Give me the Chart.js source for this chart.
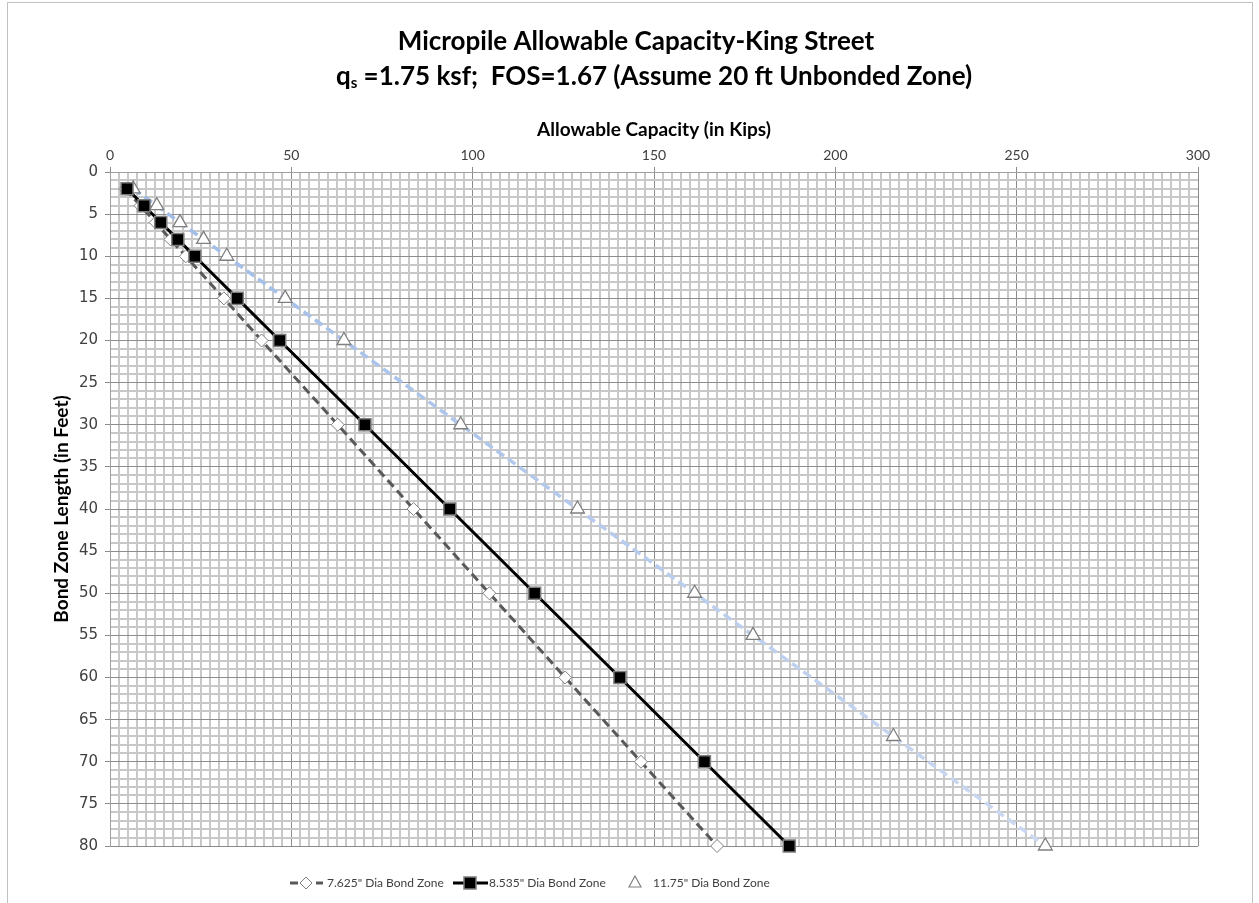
<!DOCTYPE html>
<html>
<head>
<meta charset="utf-8">
<script src="https://cdn.jsdelivr.net/npm/chart.js@4.4.0/dist/chart.umd.min.js"></script>
<style>
    html, body { margin: 0; padding: 0; background: #fff; }
    #wrap { position: relative; width: 1259px; height: 903px; }
</style>
</head>
<body>
<div id="wrap"><canvas id="grafico"></canvas></div>
<script>
// Textos do grafico
var titulo1 = 'Micropile Allowable Capacity-King Street';
var titulo2 = '=1.75 ksf;  FOS=1.67 (Assume 20 ft Unbonded Zone)';
var tituloX = 'Allowable Capacity (in Kips)';
var tituloY = 'Bond Zone Length (in Feet)';
var nomesSeries = ['7.625" Dia Bond Zone', '8.535" Dia Bond Zone', '11.75" Dia Bond Zone'];

// Comprimento do bulbo (ft) e capacidade admissivel (kips)
var comprimento = [2, 4, 6, 8, 10, 15, 20, 30, 40, 50, 60, 70, 80];
var cap7625 = [4.2, 8.4, 12.6, 16.7, 20.9, 31.4, 41.8, 62.8, 83.7, 104.6, 125.5, 146.4, 167.4];
var cap8535 = [4.7, 9.4, 14.0, 18.7, 23.4, 35.1, 46.8, 70.3, 93.7, 117.1, 140.6, 163.9, 187.3];
var comprimento1175 = [2, 4, 6, 8, 10, 15, 20, 30, 40, 50, 55, 67, 80];
var cap1175 = [6.4, 12.9, 19.3, 25.8, 32.2, 48.3, 64.5, 96.7, 128.9, 161.2, 177.3, 216.0, 257.9];

// Eixos
var xMin = 0, xMax = 300, xPassoMaior = 50, xPassoMenor = 2.5;
var yMin = 0, yMax = 80, yPassoMaior = 5, yPassoMenor = 1;

function montaPontos(xs, ys) {
    var pts = [];
    for (var i = 0; i < xs.length; i++) {
        pts.push({ x: xs[i], y: ys[i] });
    }
    return pts;
}

function ehMaior(valor, passo) {
    var r = Math.abs(valor % passo);
    return r < 1e-6 || Math.abs(r - passo) < 1e-6;
}

function corAzul(context) {
    var area = context.chart.chartArea;
    if (!area) return '#b4c7e7';
    var g = context.chart.ctx.createLinearGradient(0, area.top, 0, area.bottom);
    g.addColorStop(0, '#9dbbe8');
    g.addColorStop(1, '#ccd9f1');
    return g;
}

// desenha marcadores da legenda
function marcador(ctx, tipo, x, y) {
    ctx.save();
    ctx.beginPath();
    if (tipo == 'losango') {
        ctx.moveTo(x, y - 6); ctx.lineTo(x + 6, y); ctx.lineTo(x, y + 6); ctx.lineTo(x - 6, y); ctx.closePath();
        ctx.fillStyle = '#ffffff'; ctx.strokeStyle = '#808080'; ctx.lineWidth = 1;
    } else if (tipo == 'quadrado') {
        ctx.rect(x - 6, y - 6, 12, 12);
        ctx.fillStyle = '#000000'; ctx.strokeStyle = '#7f7f7f'; ctx.lineWidth = 1.5;
    } else {
        ctx.moveTo(x, y - 7); ctx.lineTo(x + 6, y + 4); ctx.lineTo(x - 6, y + 4); ctx.closePath();
        ctx.fillStyle = '#ffffff'; ctx.strokeStyle = '#808080'; ctx.lineWidth = 1.2;
    }
    ctx.fill(); ctx.stroke();
    ctx.restore();
}

const pluginTitulos = {
    id: 'titulos',
    afterDraw: function (chart) {
        var ctx = chart.ctx;
        ctx.save();
        // moldura
        ctx.strokeStyle = '#c0c0c0';
        ctx.lineWidth = 1;
        ctx.strokeRect(7.5, 2.5, 1245, 940);

        ctx.fillStyle = '#000';
        ctx.textAlign = 'center';
        ctx.textBaseline = 'middle';
        ctx.font = 'bold 26px Lato';
        ctx.fillText(titulo1, 636, 42);

        // segunda linha com subscrito
        var fBig = 'bold 26px Lato', fSub = 'bold 15px Lato';
        ctx.font = fBig;
        var wQ = ctx.measureText('q').width;
        var wResto = ctx.measureText(' ' + titulo2).width;
        ctx.font = fSub;
        var wS = ctx.measureText('s').width;
        var x0 = 654 - (wQ + wS + wResto) / 2;
        ctx.textAlign = 'left';
        ctx.font = fBig;
        ctx.fillText('q', x0, 77);
        ctx.font = fSub;
        ctx.fillText('s', x0 + wQ, 83);
        ctx.font = fBig;
        ctx.fillText(' ' + titulo2, x0 + wQ + wS, 77);

        // legenda
        var yl = 883;
        ctx.font = '12px Lato';
        ctx.textAlign = 'left';
        ctx.fillStyle = '#404040';

        ctx.strokeStyle = '#595959'; ctx.lineWidth = 3; ctx.setLineDash([8, 5]);
        ctx.beginPath(); ctx.moveTo(290, yl); ctx.lineTo(323, yl); ctx.stroke();
        ctx.setLineDash([]);
        marcador(ctx, 'losango', 306, yl);
        ctx.fillText(nomesSeries[0], 327, yl);

        ctx.strokeStyle = '#000'; ctx.lineWidth = 3;
        ctx.beginPath(); ctx.moveTo(453, yl); ctx.lineTo(488, yl); ctx.stroke();
        marcador(ctx, 'quadrado', 470, yl);
        ctx.fillText(nomesSeries[1], 489, yl);

        marcador(ctx, 'triangulo', 635, yl);
        ctx.fillText(nomesSeries[2], 653, yl);
        ctx.restore();
    }
};

const ctx = document.getElementById('grafico');

new Chart(ctx, {
    type: 'scatter',
    data: {
        datasets: [{
            label: nomesSeries[0],
            data: montaPontos(cap7625, comprimento),
            showLine: true,
            borderColor: '#595959',
            borderWidth: 3,
            borderDash: [9, 5],
            pointStyle: 'rectRot',
            pointRadius: 6.5,
            pointBackgroundColor: '#ffffff',
            pointBorderColor: '#808080',
            pointBorderWidth: 1,
            order: 2,
            clip: false
        }, {
            label: nomesSeries[1],
            data: montaPontos(cap8535, comprimento),
            showLine: true,
            borderColor: '#000000',
            borderWidth: 3,
            pointStyle: 'rect',
            pointRadius: 8.5,
            pointBackgroundColor: '#000000',
            pointBorderColor: '#7f7f7f',
            pointBorderWidth: 1.5,
            order: 1,
            clip: false
        }, {
            label: nomesSeries[2],
            data: montaPontos(cap1175, comprimento1175),
            showLine: true,
            borderColor: corAzul,
            borderWidth: 3.5,
            borderDash: [9, 5],
            pointStyle: 'triangle',
            pointRadius: 8,
            pointBackgroundColor: '#ffffff',
            pointBorderColor: '#808080',
            pointBorderWidth: 1.3,
            order: 3,
            clip: false
        }]
    },
    options: {
        responsive: true,
        maintainAspectRatio: false,
        animation: false,
        layout: { padding: { top: 118, left: 8, right: 61, bottom: 57 } },
        plugins: {
            legend: { display: false },
            title: { display: false },
            tooltip: { enabled: false }
        },
        scales: {
            x: {
                type: 'linear',
                position: 'top',
                min: xMin,
                max: xMax,
                afterFit: function (scale) { scale.height = 54; },
                title: {
                    display: true,
                    text: tituloX,
                    color: '#000',
                    font: { family: 'Lato', size: 19, weight: 'bold' },
                    padding: { top: 0, bottom: 0 }
                },
                ticks: {
                    stepSize: xPassoMenor,
                    autoSkip: false,
                    maxRotation: 0,
                    minRotation: 0,
                    padding: 3,
                    color: '#404040',
                    font: { family: 'Lato', size: 14 },
                    callback: function (v) { return ehMaior(v, xPassoMaior) ? v : ''; }
                },
                grid: {
                    tickLength: 5,
                    color: function (c) { return ehMaior(c.tick.value, xPassoMaior) ? '#8c8c8c' : '#c8c8c8'; },
                    lineWidth: function (c) { return ehMaior(c.tick.value, xPassoMaior) ? 1 : 2; },
                    tickColor: function (c) { return ehMaior(c.tick.value, xPassoMaior) ? '#8c8c8c' : 'rgba(0,0,0,0)'; }
                },
                border: { color: '#a0a0a0', width: 1 }
            },
            y: {
                type: 'linear',
                reverse: true,
                min: yMin,
                max: yMax,
                afterFit: function (scale) { scale.width = 102; },
                title: {
                    display: true,
                    text: tituloY,
                    color: '#000',
                    font: { family: 'Lato', size: 19, weight: 'bold' },
                    padding: { top: 42, bottom: 0 }
                },
                ticks: {
                    stepSize: yPassoMenor,
                    autoSkip: false,
                    padding: 7,
                    color: '#404040',
                    font: { family: 'DejaVu Sans', size: 15 },
                    callback: function (v) { return ehMaior(v, yPassoMaior) ? v : ''; }
                },
                grid: {
                    tickLength: 5,
                    color: function (c) { return ehMaior(c.tick.value, yPassoMaior) ? '#8c8c8c' : '#c8c8c8'; },
                    lineWidth: function (c) { return ehMaior(c.tick.value, yPassoMaior) ? 1 : 2; },
                    tickColor: function (c) { return ehMaior(c.tick.value, yPassoMaior) ? '#8c8c8c' : 'rgba(0,0,0,0)'; }
                },
                border: { color: '#a0a0a0', width: 1 }
            }
        }
    },
    plugins: [pluginTitulos]
});
</script>
</body>
</html>
